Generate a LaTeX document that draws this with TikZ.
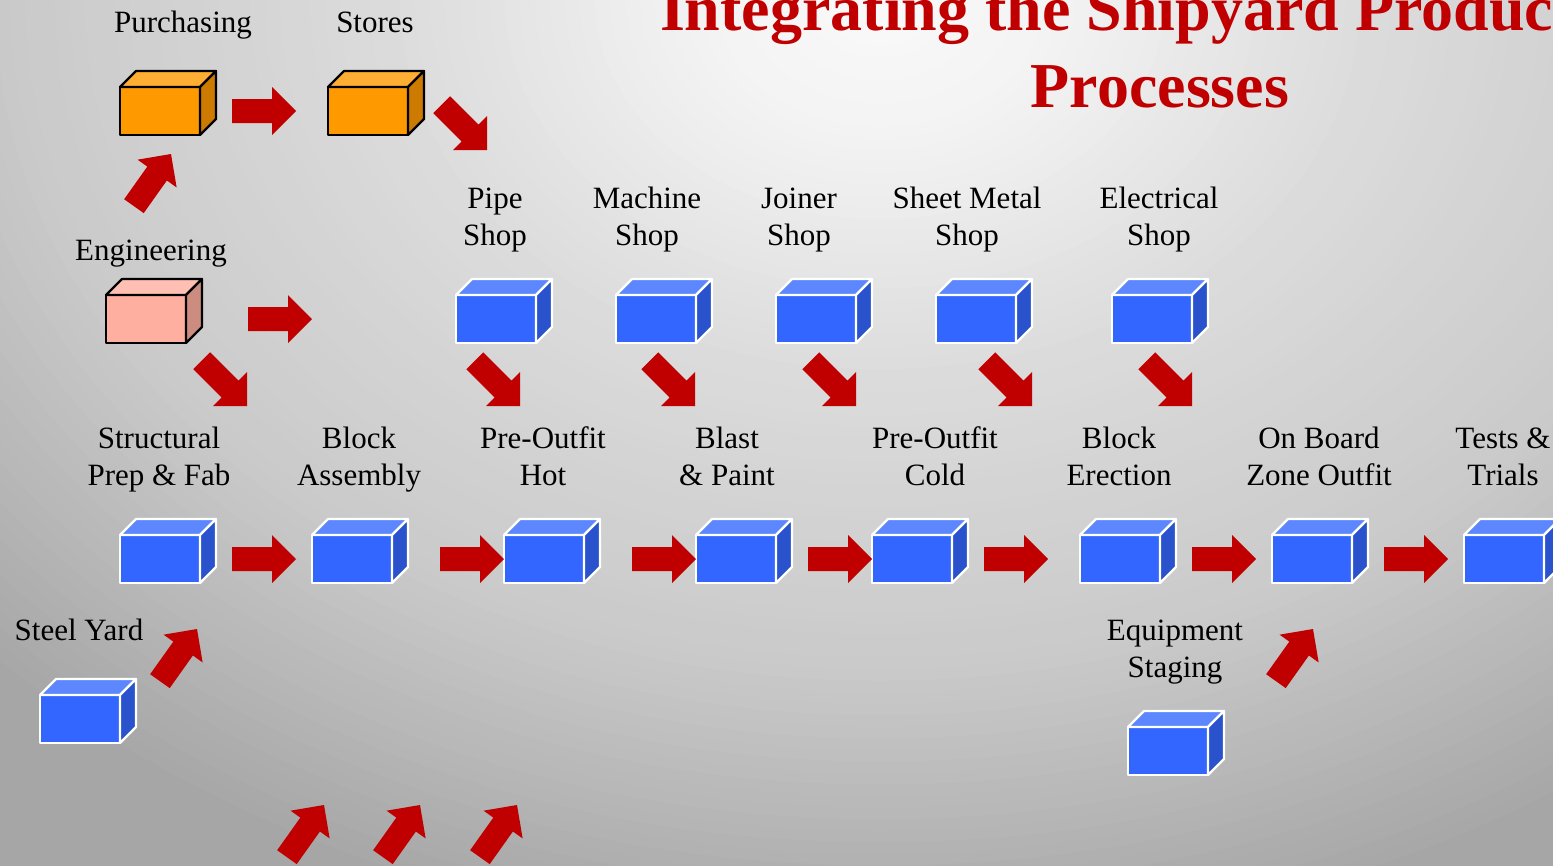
\documentclass[tikz,border=0pt]{standalone}
\usepackage{fontspec}
\setmainfont{Liberation Serif}

% palette
\definecolor{arrowred}{HTML}{C00000}
\definecolor{titlered}{HTML}{C00000}
\definecolor{bF}{HTML}{3366FF}\definecolor{bT}{HTML}{5C87FF}\definecolor{bS}{HTML}{2952CC}\definecolor{bL}{HTML}{FFFFFF}
\definecolor{oF}{HTML}{FF9900}\definecolor{oT}{HTML}{FFAD33}\definecolor{oS}{HTML}{CC7A00}\definecolor{oL}{HTML}{000000}
\definecolor{pF}{HTML}{FFAFA0}\definecolor{pT}{HTML}{FFC0B3}\definecolor{pS}{HTML}{CC8C80}\definecolor{pL}{HTML}{000000}
\definecolor{bgE}{gray}{0.65}

% a 3-D crate: front face is a named node, top and side faces drawn on it
\newcommand\crate[4]{%
  \node[cratefront, fill=#4F, draw=#4L, anchor=north west] (#1) at (#2,-#3) {};
  \filldraw[crateedge, fill=#4T, draw=#4L] (#1.north west) -- ++(16,16) -- ++(80,0) -- (#1.north east) -- cycle;
  \filldraw[crateedge, fill=#4S, draw=#4L] (#1.north east) -- ++(16,16) -- ++(0,-48) -- (#1.south east) -- cycle;
}

\tikzset{
  cratefront/.style={rectangle, minimum width=80pt, minimum height=48pt,
    inner sep=0pt, outer sep=0pt, line width=2.2pt, line join=round},
  crateedge/.style={line width=2.2pt, line join=round},
  lbl/.style={font=\fontsize{31}{37}\selectfont, align=center, anchor=base,
    inner sep=0pt, text=black},
  ttl/.style={font=\fontsize{64}{77}\selectfont\bfseries, anchor=base,
    inner sep=0pt, text=titlered},
  redarrow/.pic={\fill[arrowred] (0,0) -- (-24,24) -- (-24,12) -- (-64,12)
    -- (-64,-12) -- (-24,-12) -- (-24,-24) -- cycle;}
}

\begin{document}
\begin{tikzpicture}[x=1pt,y=1pt]
\useasboundingbox (0,0) rectangle (1553,-865);
\clip (0,0) rectangle (1553,-865);

% backdrop: elliptical glow, bright near the top centre, grey towards the edges
\fill[bgE] (0,0) rectangle (1553,-865);
\foreach \r in {1500,1485,...,15} {
  \pgfmathsetmacro\g{\r<200 ? 0.98-0.00015*\r : (\r<500 ? 0.95-0.0003*(\r-200) :
     (\r<880 ? 0.86-0.07*(\r-500)/380 : (\r<1250 ? 0.79-0.14*(\r-880)/370 : 0.65)))}
  \definecolor{ring}{gray}{\g}
  \fill[ring] (880,0) ellipse ({\r pt} and {\r pt/1.3});
}

% title
\node[ttl] (title1) at (1160,-30) {Integrating the Shipyard Production};
\node[ttl] (title2) at (1160,-107) {Processes};

% supply chain
\crate{purch}{120}{87}{o}
\crate{stores}{328}{87}{o}
\crate{eng}{106}{295}{p}
\node[lbl] (purchL) at (183,-32) {Purchasing};
\node[lbl] (storesL) at (375,-32) {Stores};
\node[lbl] (engL) at (151,-260) {Engineering};

% shops (anchor = baseline of the last line)
\crate{pipe}{456}{295}{b}
\crate{machine}{616}{295}{b}
\crate{joiner}{776}{295}{b}
\crate{sheet}{936}{295}{b}
\crate{elec}{1112}{295}{b}
\node[lbl] (pipeL) at (495,-245) {Pipe\\Shop};
\node[lbl] (machineL) at (647,-245) {Machine\\Shop};
\node[lbl] (joinerL) at (799,-245) {Joiner\\Shop};
\node[lbl] (sheetL) at (967,-245) {Sheet Metal\\Shop};
\node[lbl] (elecL) at (1159,-245) {Electrical\\Shop};

% production line
\crate{struct}{120}{535}{b}
\crate{blockasm}{312}{535}{b}
\crate{prehot}{504}{535}{b}
\crate{blast}{696}{535}{b}
\crate{precold}{872}{535}{b}
\crate{erect}{1080}{535}{b}
\crate{zone}{1272}{535}{b}
\crate{tests}{1464}{535}{b}
\node[lbl] (structL) at (159,-485) {Structural\\Prep \& Fab};
\node[lbl] (blockasmL) at (359,-485) {Block\\Assembly};
\node[lbl] (prehotL) at (543,-485) {Pre-Outfit\\Hot};
\node[lbl] (blastL) at (727,-485) {Blast\\\& Paint};
\node[lbl] (precoldL) at (935,-485) {Pre-Outfit\\Cold};
\node[lbl] (erectL) at (1119,-485) {Block\\Erection};
\node[lbl] (zoneL) at (1319,-485) {On Board\\Zone Outfit};
\node[lbl] (testsL) at (1503,-485) {Tests \&\\Trials};

% feeders
\crate{steel}{40}{695}{b}
\crate{equip}{1128}{727}{b}
\node[lbl] (steelL) at (79,-640) {Steel Yard};
\node[lbl] (equipL) at (1175,-677) {Equipment\\Staging};

% flow arrows: horizontal
\foreach \tx/\ty in {296/111, 312/319, 296/559, 504/559, 696/559, 872/559,
                     1048/559, 1256/559, 1448/559}
  \pic at (\tx,-\ty) {redarrow};
% flow arrows: down to the right
\foreach \tx/\ty in {487/150, 247/406, 520/406, 695/406, 856/406, 1032/406, 1192/406}
  \pic[rotate=-45] at (\tx,-\ty) {redarrow};
% flow arrows: up to the right
\foreach \tx/\ty in {171/154, 197/629, 324/805, 420/805, 517/805, 1313/629}
  \pic[rotate=54.6] at (\tx,-\ty) {redarrow};
\end{tikzpicture}
\end{document}
